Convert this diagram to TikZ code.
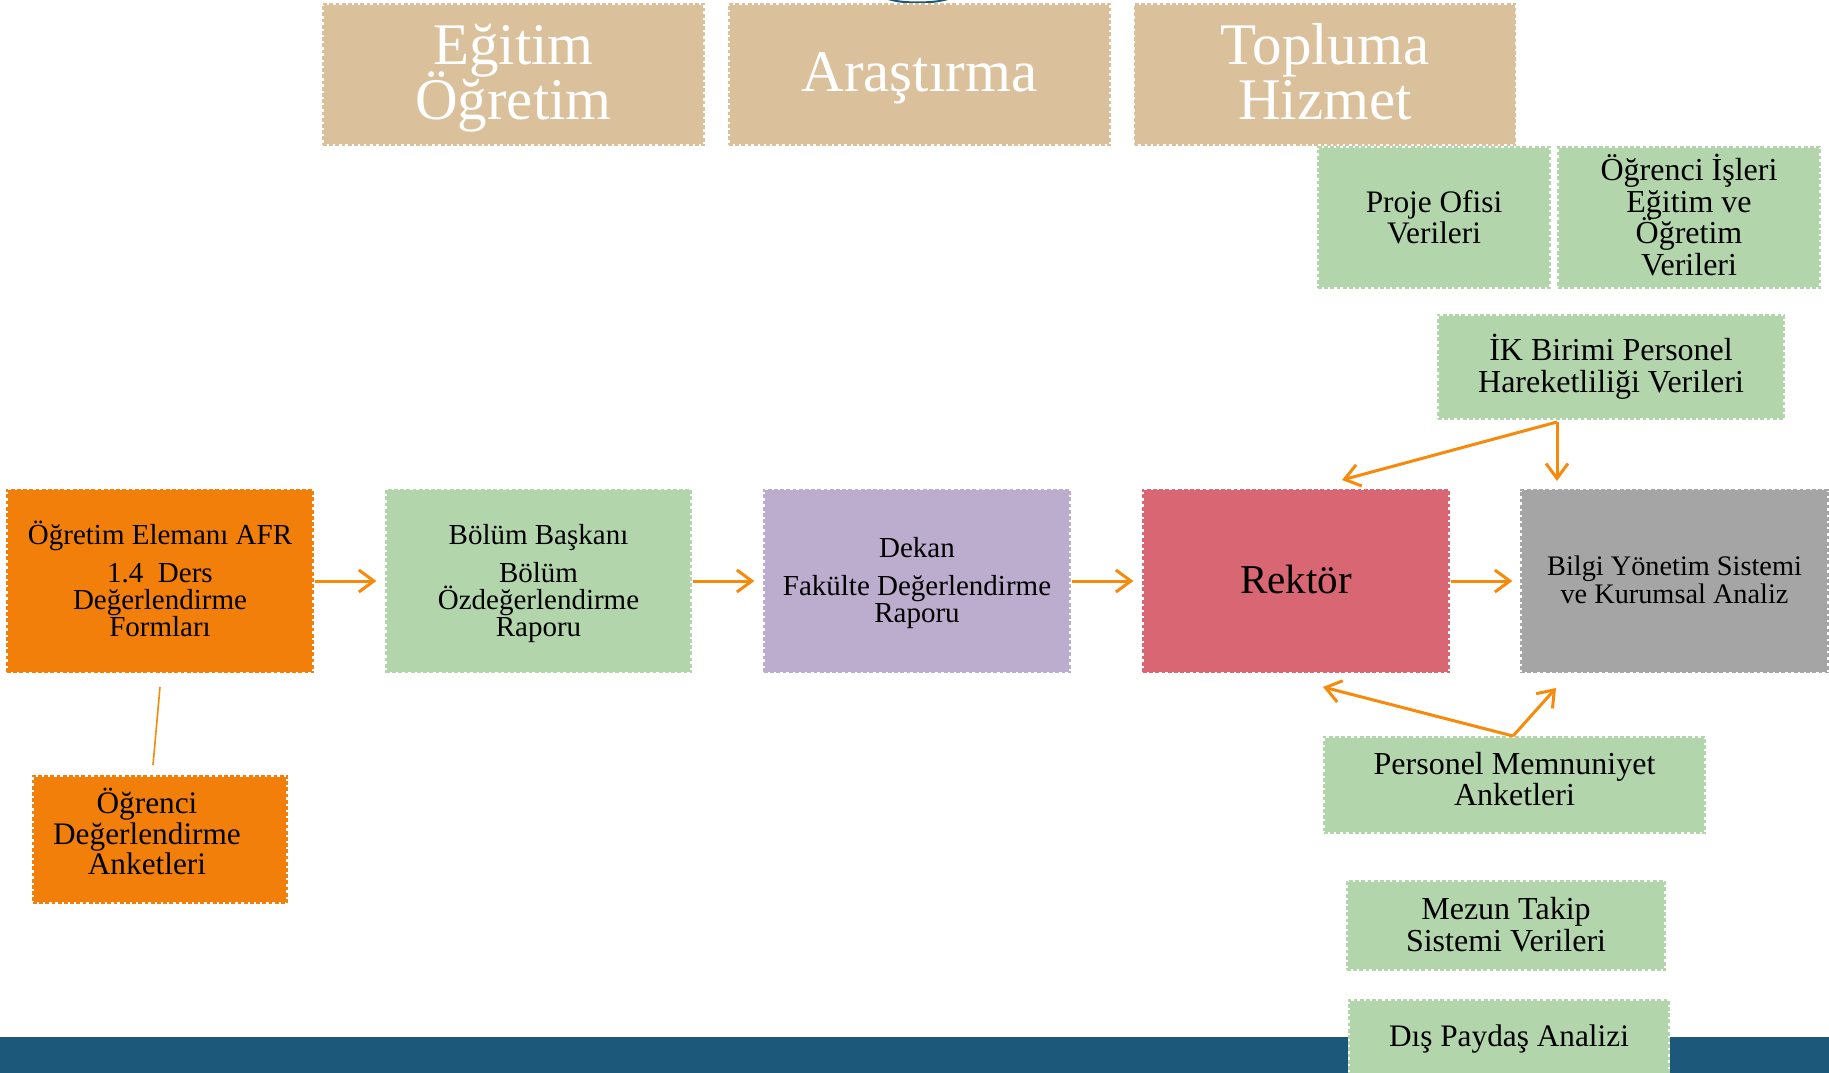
\documentclass[tikz,border=0pt]{standalone}
\usepackage{fontspec}
\setmainfont{Liberation Serif}
\usetikzlibrary{arrows.meta}
\definecolor{tanc}{HTML}{DAC09B}
\definecolor{greenc}{HTML}{B3D5AC}
\definecolor{orangec}{HTML}{F17F0A}
\definecolor{purplec}{HTML}{BCACCD}
\definecolor{redc}{HTML}{D96673}
\definecolor{greyc}{HTML}{A5A5A5}
\definecolor{arrowc}{HTML}{F58A0B}
\definecolor{bandc}{HTML}{1C5879}
% #1 first-baseline offset above node centre, #2 leading, #3 horizontal offset, #4 lines
\newcommand{\textblock}[4]{\raisebox{#1pt}[0pt][0pt]{\makebox[0pt]{\hspace*{#3pt}\hspace*{#3pt}\parbox[t]{500pt}{\centering\baselineskip=#2pt\lineskiplimit=-100pt\relax #4}}}}
\tikzset{
  panel/.style={draw=white,line width=1.2pt,fill=#1,inner sep=0pt,text=black,
    postaction={draw=#1,line width=1.2pt,dash pattern=on 3.8pt off 2.4pt}},
  big/.style={font=\fontsize{59}{54}\selectfont,text=white},
  mid/.style={font=\fontsize{32}{32}\selectfont},
  midless/.style={font=\fontsize{31.3}{32}\selectfont},
  small/.style={font=\fontsize{29}{27}\selectfont},
  flow/.style={draw=arrowc,line width=3pt,-{Straight Barb[length=15pt,width=22pt,line width=3pt]}},
  thinlink/.style={draw=arrowc,line width=1.6pt},
}
\begin{document}
\begin{tikzpicture}[x=1pt,y=-1pt]
\useasboundingbox (0,0) rectangle (1829,1073);
\fill[bandc] (0,1037) rectangle (1829,1073);
\fill[bandc] (888,0) .. controls (905,5) and (930,5) .. (948,0) -- (940,0) .. controls (925,2) and (910,2) .. (896,0) -- cycle;
% top
\node[panel=tanc,big,minimum width=381pt,minimum height=141pt] (egitim) at (513.5,74.5) {\textblock{9.5}{54}{0}{Eğitim\\Öğretim}};
\node[panel=tanc,big,minimum width=381pt,minimum height=141pt] (arastirma) at (919.5,74.5) {\textblock{-17}{54}{0}{Araştırma}};
\node[panel=tanc,big,minimum width=381pt,minimum height=141pt] (toplum) at (1325,74.5) {\textblock{9.5}{54}{0}{Topluma\\Hizmet}};
% right data boxes
\node[panel=greenc,midless,minimum width=232pt,minimum height=141pt] (proje) at (1434,217.5) {\textblock{5.5}{31.5}{0}{Proje Ofisi\\Verileri}};
\node[panel=greenc,mid,minimum width=262pt,minimum height=141pt] (ogris) at (1689,217.5) {\textblock{37}{31.5}{0}{Öğrenci İşleri\\Eğitim ve\\Öğretim\\Verileri}};
\node[panel=greenc,mid,minimum width=346pt,minimum height=104pt] (ik) at (1611,367) {\textblock{7}{32.5}{0}{İK Birimi Personel\\Hareketliliği Verileri}};
% main row
\node[panel=orangec,small,minimum width=306pt,minimum height=183pt] (afr) at (160,581) {\textblock{37}{27}{0}{Öğretim Elemanı AFR\\[11pt]1.4\ \ Ders\\Değerlendirme\\Formları}};
\node[panel=greenc,small,minimum width=305pt,minimum height=183pt] (bolum) at (538.5,581) {\textblock{37}{27}{0}{Bölüm Başkanı\\[11pt]Bölüm\\Özdeğerlendirme\\Raporu}};
\node[panel=purplec,small,minimum width=306pt,minimum height=183pt] (dekan) at (917,581) {\textblock{24}{27.5}{0}{Dekan\\[10.5pt]Fakülte Değerlendirme\\Raporu}};
\node[panel=redc,font=\fontsize{41}{41}\selectfont,minimum width=306pt,minimum height=183pt] (rektor) at (1296,581) {\textblock{-12}{41}{0}{Rektör}};
\node[panel=greyc,font=\fontsize{28.3}{28}\selectfont,minimum width=307pt,minimum height=183pt] (bilgi) at (1674.5,581) {\textblock{6}{28}{0}{Bilgi Yönetim Sistemi\\ve Kurumsal Analiz}};
% lower boxes
\node[panel=orangec,midless,minimum width=254pt,minimum height=127pt] (ogranket) at (160,839.5) {\textblock{26}{30.5}{-13}{Öğrenci\\Değerlendirme\\Anketleri}};
\node[panel=greenc,mid,minimum width=381pt,minimum height=96pt] (personel) at (1514.5,785) {\textblock{10.5}{31}{0}{Personel Memnuniyet\\Anketleri}};
\node[panel=greenc,mid,minimum width=318pt,minimum height=89pt] (mezun) at (1506,925.5) {\textblock{6}{32}{0}{Mezun Takip\\Sistemi Verileri}};
\node[panel=greenc,midless,minimum width=320pt,minimum height=100pt] (dis) at (1509,1050) {\textblock{4}{32}{0}{Dış Paydaş Analizi}};
% named connector ends
\coordinate (ikhub) at (1557,422);
\coordinate (ikrek) at (1342,480);
\coordinate (ikbil) at (1557,481);
\coordinate (pehub) at (1513,736);
\coordinate (perek) at (1323,687);
\coordinate (pebil) at (1556,688);
\coordinate (afrlow) at (160,687);
\coordinate (ogrup) at (153,765);
% connectors
\draw[flow,shorten <=1pt,shorten >=9pt] (afr.east) -- (bolum.west);
\draw[flow,shorten <=1pt,shorten >=9pt] (bolum.east) -- (dekan.west);
\draw[flow,shorten <=1pt,shorten >=9pt] (dekan.east) -- (rektor.west);
\draw[flow,shorten <=1pt,shorten >=8pt] (rektor.east) -- (bilgi.west);
\draw[flow] (ikhub) -- (ikrek);
\draw[flow] (ikhub) -- (ikbil);
\draw[flow] (pehub) -- (perek);
\draw[flow] (pehub) -- (pebil);
\draw[thinlink] (afrlow) -- (ogrup);
\end{tikzpicture}
\end{document}
